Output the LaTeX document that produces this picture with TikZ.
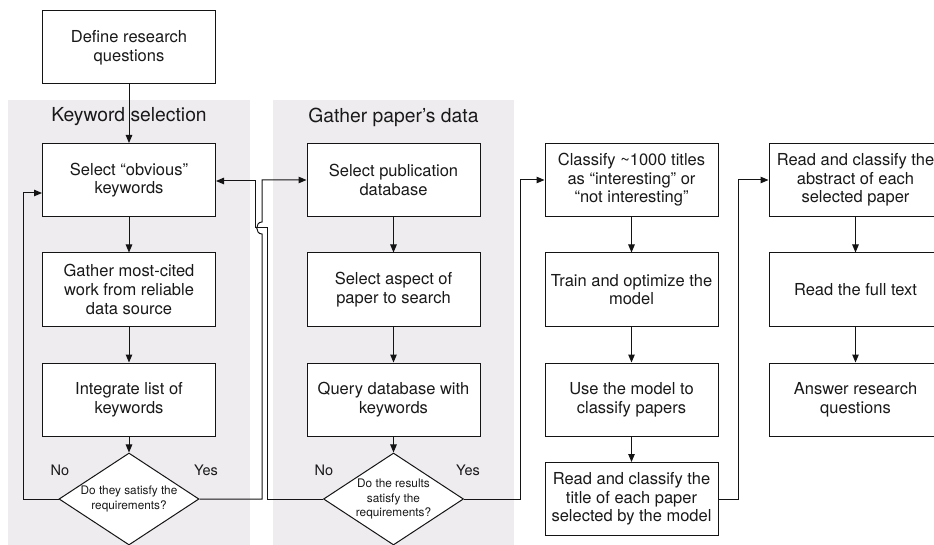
\documentclass[tikz,border=0pt]{standalone}
\usepackage{fontspec}
\setmainfont{TeX Gyre Heros}
\usetikzlibrary{shapes.geometric,arrows.meta,calc}

\definecolor{panelfill}{RGB}{239,236,240}
\definecolor{inkline}{RGB}{20,20,20}
\definecolor{inktext}{RGB}{25,25,25}

\tikzset{
  stepbox/.style={draw=inkline, line width=1pt, fill=white, minimum width=173pt,
    minimum height=73pt, inner sep=0pt, align=center, text=inktext,
    font=\fontsize{16.5}{18.6}\selectfont},
  decision/.style={draw=inkline, line width=1pt, fill=white, shape=diamond,
    minimum width=140pt, minimum height=92pt, inner sep=0pt},
  decisiontext/.style={align=center, text=inktext, inner sep=0pt,
    font=\fontsize{11.8}{14.3}\selectfont},
  panel/.style={fill=panelfill, draw=none},
  paneltitle/.style={text=inktext, inner sep=0pt, font=\fontsize{19.3}{22}\selectfont},
  answer/.style={text=inktext, inner sep=0pt, font=\fontsize{14.5}{17}\selectfont},
  link/.style={draw=inkline, line width=1pt, -{Triangle[length=8pt,width=6.5pt]}},
}

\begin{document}
\begin{tikzpicture}[x=1pt, y=-1pt]
  \useasboundingbox (0,0) rectangle (934,545);
  \clip (0,0) rectangle (934,545);

  % grouping panels
  \fill[panel] (8,100) rectangle (250,545);
  \fill[panel] (273,100) rectangle (514,545);
  \node[paneltitle] (kwtitle) at (129,117) {Keyword selection};
  \node[paneltitle] (gdtitle) at (393.5,117) {Gather paper’s data};

  % start
  \node[stepbox] (start) at (129,47.5) {Define research\\questions};

  % column 1: keyword selection
  \node[stepbox] (k1) at (129,180) {Select “obvious”\\keywords};
  \node[stepbox] (k2) at (129,289.5) {Gather most-cited\\work from reliable\\data source};
  \node[stepbox] (k3) at (129,399.5) {Integrate list of\\keywords};
  \node[decision] (d1) at (129,499) {};
  \node[decisiontext] (d1t) at (d1) {Do they satisfy the\\requirements?};

  % column 2: gather data
  \node[stepbox] (g1) at (393.5,180) {Select publication\\database};
  \node[stepbox] (g2) at (393.5,289.5) {Select aspect of\\paper to search};
  \node[stepbox] (g3) at (393.5,399.5) {Query database with\\keywords};
  \node[decision] (d2) at (393.5,499) {};
  \node[decisiontext] (d2t) at (d2) {Do the results\\satisfy the\\requirements?};

  % column 3: model
  \node[stepbox] (m1) at (631.5,180) {Classify \textasciitilde1000 titles\\as “interesting” or\\“not interesting”};
  \node[stepbox] (m2) at (631.5,289.5) {Train and optimize the\\model};
  \node[stepbox] (m3) at (631.5,399.5) {Use the model to\\classify papers};
  \node[stepbox] (m4) at (631.5,499) {Read and classify the\\title of each paper\\selected by the model};

  % column 4: reading
  \node[stepbox] (r1) at (855.5,180) {Read and classify the\\abstract of each\\selected paper};
  \node[stepbox] (r2) at (855.5,289.5) {Read the full text};
  \node[stepbox] (r3) at (855.5,399.5) {Answer research\\questions};

  % branch labels
  \node[answer] (no1) at (60,470) {No};
  \node[answer] (yes1) at (206,470) {Yes};
  \node[answer] (no2) at (324,470) {No};
  \node[answer] (yes2) at (468,470) {Yes};

  % routing columns
  \coordinate (loopL) at (23,0);
  \coordinate (yesA) at (262,0);
  \coordinate (noA) at (267,0);
  \coordinate (noB) at (255,0);
  \coordinate (yesB) at (520,0);
  \coordinate (nextC) at (738,0);

  % straight flow
  \draw[link] (start) -- (k1);
  \draw[link] (k1) -- (k2);
  \draw[link] (k2) -- (k3);
  \draw[link] (k3) -- (d1);
  \draw[link] (g1) -- (g2);
  \draw[link] (g2) -- (g3);
  \draw[link] (g3) -- (d2);
  \draw[link] (m1) -- (m2);
  \draw[link] (m2) -- (m3);
  \draw[link] (m3) -- (m4);
  \draw[link] (r1) -- (r2);
  \draw[link] (r2) -- (r3);

  % decision 1: retry or continue
  \draw[link] (d1.west) -- (d1.west -| loopL) |- ($(k1.west)+(0,13)$);
  \draw[link] (d1.east) -- (d1.east -| yesA) -- ($(yesA)+(0,234)$)
    .. controls ($(yesA)+(-7,234)$) and ($(yesA)+(-7,222)$) .. ($(yesA)+(0,222)$)
    -- (g1.west -| yesA) -- (g1.west);

  % decision 2: back to keywords or continue
  \draw[link] (d2.west) -- (d2.west -| noA) -- ($(noA)+(0,228)$)
    -- ($(noB)+(0,228)$) -- ($(noB)+(0,181)$) -- ($(k1.east)+(0,1)$);
  \draw[link] (d2.east) -- (d2.east -| yesB) |- (m1.west);

  % model results to reading
  \draw[link] (m4.east) -- (m4.east -| nextC) |- (r1.west);
\end{tikzpicture}
\end{document}
